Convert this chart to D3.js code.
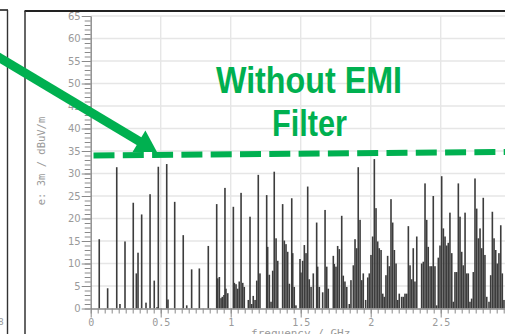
<!DOCTYPE html>
<html>
<head>
<meta charset="utf-8">
<script src="https://cdn.jsdelivr.net/npm/d3@7"></script>
<style>
  html, body { margin: 0; padding: 0; background: #fff; }
  svg { display: block; }
</style>
</head>
<body>
<svg id="chart" width="505" height="334"></svg>
<script>
// Radiated emission spectrum, 3 m distance, no EMI filter fitted.
const freqGHz = [
  0.061,0.121,0.186,0.209,0.245,0.304,0.326,0.338,0.364,0.395,0.424,0.454,0.474,0.483,0.543,0.552,0.600,0.661,0.686,0.721,0.776,
  0.840,0.900,0.907,0.919,0.931,0.940,0.952,0.959,0.966,0.979,1.019,1.026,1.038,1.050,1.061,1.074,1.086,1.097,1.126,1.138,1.150,
  1.161,1.174,1.186,1.197,1.209,1.257,1.264,1.276,1.288,1.300,1.311,1.324,1.336,1.371,1.383,1.395,1.407,1.419,1.436,1.443,1.454,
  1.466,1.495,1.502,1.514,1.526,1.538,1.550,1.561,1.574,1.590,1.614,1.621,1.633,1.657,1.674,1.686,1.697,1.733,1.740,1.752,1.764,
  1.776,1.793,1.804,1.816,1.829,1.847,1.859,1.876,1.888,1.900,1.911,1.924,1.936,1.947,1.964,1.979,1.990,2.002,2.014,2.026,2.038,
  2.050,2.061,2.074,2.086,2.097,2.109,2.121,2.133,2.145,2.157,2.169,2.181,2.193,2.204,2.221,2.233,2.245,2.257,2.269,2.281,2.293,
  2.304,2.316,2.329,2.364,2.376,2.388,2.400,2.411,2.424,2.436,2.447,2.459,2.471,2.483,2.495,2.507,2.519,2.531,2.543,2.554,2.566,
  2.579,2.590,2.602,2.614,2.626,2.638,2.650,2.661,2.674,2.686,2.697,2.709,2.721,2.733,2.745,2.757,2.769,2.781,2.793,2.804,2.816,
  2.829,2.845,2.857,2.869,2.881,2.893,2.904,2.916,2.929,2.940,2.952
];
const levelDbuV = [
  15.4,4.5,31.4,1.0,14.9,23.5,7.8,12.4,20.9,1.3,25.4,6.2,0.3,31.5,32.1,2.0,23.7,16.3,0.7,8.7,8.9,
  13.9,23.2,6.7,7.0,2.3,2.6,3.0,26.8,4.4,3.4,22.6,5.7,5.4,4.4,6.0,25.7,5.7,4.8,1.9,20.4,1.0,
  2.8,1.9,6.2,29.7,7.8,25.2,13.7,7.5,1.5,8.4,30.4,15.6,10.6,23.2,15.1,14.3,12.6,5.5,24.5,12.3,4.8,
  0.7,11.0,8.0,10.6,14.1,12.3,27.1,6.5,4.8,7.8,19.1,9.3,4.8,3.6,21.9,9.3,4.4,11.7,9.9,9.3,13.9,
  13.2,20.6,7.3,6.0,4.8,1.0,6.3,9.6,15.4,13.4,31.4,19.7,6.3,7.8,1.9,6.9,7.8,11.9,16.0,33.2,22.3,
  14.9,13.4,13.0,3.3,2.6,7.4,11.7,9.4,24.3,19.1,13.0,10.0,1.9,3.3,2.6,2.6,3.3,3.3,18.3,9.6,6.5,
  13.4,6.0,16.0,10.0,10.4,27.8,19.7,13.7,9.4,9.4,25.0,9.4,0.7,11.3,14.0,29.4,17.8,16.0,14.0,14.6,21.3,
  12.3,1.5,8.1,8.1,27.8,20.4,12.6,9.6,21.3,7.8,7.8,1.5,2.2,8.1,28.9,22.2,15.6,17.8,13.4,24.6,11.9,
  2.6,1.5,7.4,21.5,15.6,13.0,10.0,12.3,18.5,7.8,1.9
];
const yMajorTicks = d3.range(0, 66, 5);
const yMinorTicks = d3.range(0, 66, 1);
const xMajorTicks = [0, 0.5, 1, 1.5, 2, 2.5];
const xMajorLabels = ["0", "0.5", "1", "1.5", "2", "2.5"];
const xMinorTicks = d3.range(0, 61).map(i => i * 0.05);
const limitLevel = [34, 34.8];          // hand-drawn limit marker, left and right ends
const noteLines = ["Without EMI", "Filter"];
const xTitle = "frequency / GHz";
const yTitle = "e: 3m / dBuV/m";

const svg = d3.select("#chart");
const green = "#00B050";

const x = d3.scaleLinear().domain([0, 3]).range([90.7, 510.7]);
const y = d3.scaleLinear().domain([0, 65]).range([308.5, 16]);

// panel frames
svg.append("line").attr("x1", 0).attr("x2", 8).attr("y1", 10).attr("y2", 10)
  .attr("stroke", "#222").attr("stroke-width", 1.6);
svg.append("line").attr("x1", 7.5).attr("x2", 7.5).attr("y1", 10).attr("y2", 334)
  .attr("stroke", "#333").attr("stroke-width", 1.4);
svg.append("text").attr("x", -2).attr("y", 325).attr("font-family", "DejaVu Sans")
  .attr("font-size", 9).attr("fill", "#999").text("8");
svg.append("line").attr("x1", 24.5).attr("x2", 505).attr("y1", 11).attr("y2", 11)
  .attr("stroke", "#222").attr("stroke-width", 2);
svg.append("line").attr("x1", 25).attr("x2", 25).attr("y1", 11).attr("y2", 334)
  .attr("stroke", "#333").attr("stroke-width", 1.5);

// grid
const grid = svg.append("g");
grid.selectAll(".hg").data(yMajorTicks.filter(d => d > 0)).join("line")
  .attr("x1", x(0)).attr("x2", 505).attr("y1", d => y(d)).attr("y2", d => y(d))
  .attr("stroke", "#e6e6e6").attr("stroke-width", 1.4);
grid.selectAll(".vg").data(xMajorTicks.filter(d => d > 0)).join("line")
  .attr("x1", d => x(d)).attr("x2", d => x(d)).attr("y1", y(65)).attr("y2", y(0))
  .attr("stroke", "#e6e6e6").attr("stroke-width", 1.4);

// spectrum lines
const bars = freqGHz.map((f, i) => ({ f, v: levelDbuV[i] }));
svg.append("g").selectAll("rect").data(bars).join("rect")
  .attr("x", d => x(d.f) - 0.8).attr("width", 1.6)
  .attr("y", d => y(d.v)).attr("height", d => y(0) - y(d.v))
  .attr("fill", "#3c3c3c");

// axes
function styleAxis(g) {
  g.selectAll("path, line").attr("stroke", "#8a8a8a").attr("stroke-width", 1);
  g.selectAll("text").attr("fill", "#9a9a9a");
}
svg.append("g").attr("transform", `translate(${x(0)},0)`)
  .call(d3.axisLeft(y).tickValues(yMinorTicks).tickSize(6).tickFormat("").tickSizeOuter(0))
  .call(styleAxis);
svg.append("g").attr("transform", `translate(${x(0)},0)`)
  .call(d3.axisLeft(y).tickValues(yMajorTicks).tickSize(9).tickPadding(1).tickSizeOuter(0))
  .call(g => g.selectAll("text").attr("font-family", "DejaVu Sans").attr("font-size", 10))
  .call(styleAxis);
svg.append("g").attr("transform", `translate(0,${y(0)})`)
  .call(d3.axisBottom(x).tickValues(xMinorTicks).tickSize(5).tickFormat("").tickSizeOuter(0))
  .call(styleAxis);
svg.append("g").attr("transform", `translate(0,${y(0)})`)
  .call(d3.axisBottom(x).tickValues(xMajorTicks).tickSize(9).tickPadding(1).tickSizeOuter(0)
    .tickFormat((d, i) => xMajorLabels[i]))
  .call(g => g.selectAll("text").attr("font-family", "DejaVu Sans Mono").attr("font-size", 10))
  .call(styleAxis);

svg.append("text").attr("x", x(1.5)).attr("y", 337).attr("text-anchor", "middle")
  .attr("font-family", "DejaVu Sans Mono").attr("font-size", 11).attr("fill", "#9a9a9a")
  .text(xTitle);
svg.append("text").attr("transform", "translate(45,161) rotate(-90)").attr("text-anchor", "middle")
  .attr("font-family", "DejaVu Sans Mono").attr("font-size", 10.5).attr("fill", "#9a9a9a")
  .text(yTitle);

// dashed limit marker
svg.append("line")
  .attr("x1", 93.5).attr("x2", 505)
  .attr("y1", y(limitLevel[0])).attr("y2", y(limitLevel[1]))
  .attr("stroke", green).attr("stroke-width", 6).attr("stroke-dasharray", "21 8.3");

// arrow pointing at the marker
const tip = [157, 152], start = [-5, 55];
const dx = tip[0] - start[0], dy = tip[1] - start[1], len = Math.hypot(dx, dy);
const ux = dx / len, uy = dy / len, nx = -uy, ny = ux;
const headLen = 21, headHalf = 12.5;
const base = [tip[0] - headLen * ux, tip[1] - headLen * uy];
svg.append("line").attr("x1", start[0]).attr("y1", start[1])
  .attr("x2", base[0] + ux).attr("y2", base[1] + uy)
  .attr("stroke", green).attr("stroke-width", 9);
svg.append("path")
  .attr("d", d3.line()([tip, [base[0] + headHalf * nx, base[1] + headHalf * ny],
                           [base[0] - headHalf * nx, base[1] - headHalf * ny]]) + "Z")
  .attr("fill", green);

// annotation text
const note = svg.append("g").attr("font-family", "'Liberation Sans Narrow', 'Arial Narrow', 'Liberation Sans', Arial")
  .attr("font-weight", "bold").attr("font-size", 37).attr("fill", green).attr("text-anchor", "middle");
note.append("text").attr("x", 309).attr("y", 92.5)
  .attr("textLength", 186).attr("lengthAdjust", "spacingAndGlyphs").text(noteLines[0]);
note.append("text").attr("x", 309.5).attr("y", 136)
  .attr("textLength", 75).attr("lengthAdjust", "spacingAndGlyphs").text(noteLines[1]);
</script>
</body>
</html>
